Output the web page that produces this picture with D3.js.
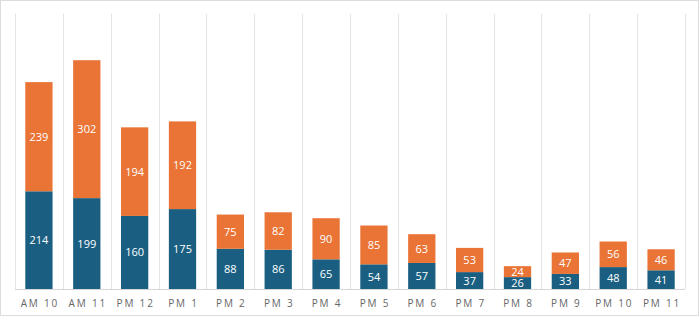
<!DOCTYPE html>
<html>
<head>
<meta charset="utf-8">
<script src="https://cdn.jsdelivr.net/npm/d3@7"></script>
<style>
  body { margin: 0; background: #fff; }
  svg { display: block; font-family: "Open Sans", sans-serif; }
</style>
</head>
<body>
<div id="chart"></div>
<script>
// hourly counts, two stacked series
const hours = ["AM 10", "AM 11", "PM 12", "PM 1", "PM 2", "PM 3", "PM 4", "PM 5", "PM 6", "PM 7", "PM 8", "PM 9", "PM 10", "PM 11"];
const lower = [214, 199, 160, 175, 88, 86, 65, 54, 57, 37, 26, 33, 48, 41];
const upper = [239, 302, 194, 192, 75, 82, 90, 85, 63, 53, 24, 47, 56, 46];

const width = 700, height = 318;
const colors = ["#1a5f82", "#e97436"];

let svg = d3.select("#chart").append("svg")
  .attr("width", width)
  .attr("height", height);

// outer frame
svg.append("rect")
  .attr("x", 0.5).attr("y", 0.5)
  .attr("width", width - 2).attr("height", height - 3)
  .attr("fill", "none").attr("stroke", "#dcdcdc");

let x = d3.scaleBand().domain(hours).range([15, 685]).paddingInner(0.43).paddingOuter(0.215);
let y = d3.scaleLinear().domain([0, 600]).range([289, 15]);

// vertical separators between hours
let edges = hours.map(h => x(h) - x.step() * x.paddingInner() / 2);
edges.push(685);
svg.append("g").selectAll("line").data(edges).enter().append("line")
  .attr("x1", d => Math.round(d) + 0.5).attr("x2", d => Math.round(d) + 0.5)
  .attr("y1", 14).attr("y2", 289)
  .attr("stroke", "#e3e3e3");

let rows = hours.map((h, i) => ({ hour: h, lower: lower[i], upper: upper[i] }));
let stack = d3.stack().keys(["lower", "upper"])(rows);

let gg = svg.append("g");
stack.forEach((s, k) => {
  gg.append("g").attr("fill", colors[k])
    .selectAll("rect").data(s).enter().append("rect")
    .attr("x", d => x(d.data.hour))
    .attr("width", x.bandwidth())
    .attr("y", d => y(d[1]))
    .attr("height", d => y(d[0]) - y(d[1]));

  gg.append("g").selectAll("text").data(s).enter().append("text")
    .attr("x", d => x(d.data.hour) + x.bandwidth() / 2)
    .attr("y", d => (y(d[0]) + y(d[1])) / 2)
    .attr("dy", "0.36em")
    .attr("text-anchor", "middle")
    .attr("fill", "#fff")
    .style("font-size", "11px")
    .text(d => d[1] - d[0]);
});

// baseline
svg.append("line")
  .attr("x1", 15).attr("x2", 685)
  .attr("y1", 289.5).attr("y2", 289.5)
  .attr("stroke", "#d6d6d6");

svg.append("g").selectAll("text").data(hours).enter().append("text")
  .attr("x", d => x(d) + x.bandwidth() / 2 + 1)
  .attr("y", 303)
  .attr("dy", "0.35em")
  .attr("text-anchor", "middle")
  .attr("fill", "#666")
  .style("font-size", "10px")
  .style("letter-spacing", "1.8px")
  .text(d => d);
</script>
</body>
</html>
